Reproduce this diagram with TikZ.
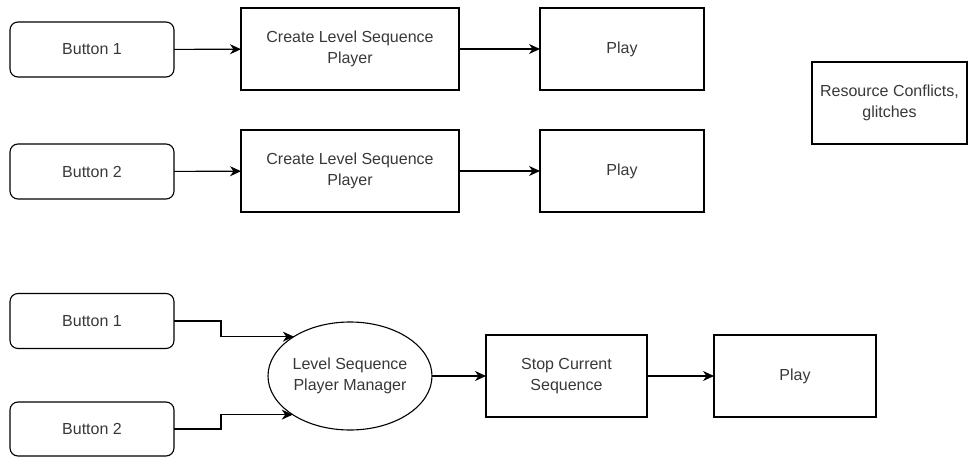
\documentclass[tikz,border=0pt]{standalone}
\usepackage{fontspec}
\setmainfont{Liberation Sans}
\usetikzlibrary{arrows.meta,shapes.geometric}
\begin{document}
\begin{tikzpicture}[x=1pt,y=-1pt,
  every node/.style={inner sep=0pt,outer sep=0pt,font=\fontsize{16}{20.5}\selectfont,text=black!78,align=center},
  box/.style={draw,line width=1.1pt,rectangle},
  btn/.style={draw,line width=1.1pt,rectangle,rounded corners=8pt,minimum width=164pt,minimum height=55pt},
  ell/.style={draw,line width=1.1pt,ellipse,minimum width=164pt,minimum height=108pt},
  conn/.style={line width=1.1pt,-{Stealth[length=11pt,width=10pt,inset=3.5pt]}}]
\useasboundingbox (0,0) rectangle (968,457);
% top row
\node[btn] (b1) at (92,49.5) {Button 1};
\node[box,minimum width=218pt,minimum height=82pt] (c1) at (350,49) {Create Level Sequence\\Player};
\node[box,minimum width=164pt,minimum height=82pt] (p1) at (622,49) {Play};
% second row
\node[btn] (b2) at (92,171.5) {Button 2};
\node[box,minimum width=218pt,minimum height=82pt] (c2) at (350,171) {Create Level Sequence\\Player};
\node[box,minimum width=164pt,minimum height=82pt] (p2) at (622,171) {Play};
% side note
\node[box,minimum width=155pt,minimum height=82pt] (rc) at (889.5,103) {Resource Conflicts,\\glitches};
% bottom
\node[btn] (b3) at (92,321) {Button 1};
\node[btn,minimum height=54pt] (b4) at (92,429) {Button 2};
\node[ell] (m) at (350,376) {Level Sequence\\Player Manager};
\node[box,minimum width=161pt,minimum height=82pt] (s) at (566.5,376) {Stop Current\\Sequence};
\node[box,minimum width=162pt,minimum height=82pt] (p3) at (795,376) {Play};
% connectors
\draw[conn] (b1) -- (c1);
\draw[conn] (c1) -- (p1);
\draw[conn] (b2) -- (c2);
\draw[conn] (c2) -- (p2);
\draw[conn] (b3.east) -- ++(47,0) |- (m.145.5);
\draw[conn] (b4.east) -- ++(47,0) |- (m.214.5);
\draw[conn] (m) -- (s);
\draw[conn] (s) -- (p3);
\end{tikzpicture}
\end{document}
